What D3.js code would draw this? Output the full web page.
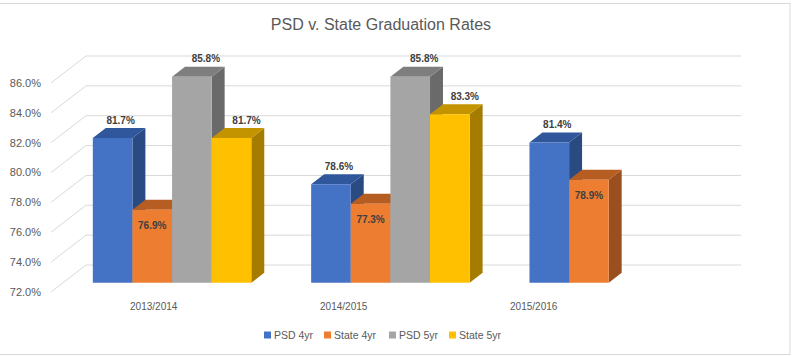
<!DOCTYPE html>
<html><head><meta charset="utf-8">
<script src="https://cdn.jsdelivr.net/npm/d3@7"></script>
<style>
html,body{margin:0;padding:0;background:#fff;}
svg{display:block;font-family:"Liberation Sans",Arial,sans-serif;}
</style></head>
<body>
<svg id="chart" width="793" height="356"></svg>
<script>
// ---- data ----
const categories = ["2013/2014", "2014/2015", "2015/2016"];
const seriesNames = ["PSD 4yr", "State 4yr", "PSD 5yr", "State 5yr"];
const psd4 = [81.7, 78.6, 81.4];
const state4 = [76.9, 77.3, 78.9];
const psd5 = [85.8, 85.8, null];
const state5 = [81.7, 83.3, null];
const yTicks = [72, 74, 76, 78, 80, 82, 84, 86];
const title = "PSD v. State Graduation Rates";

const seriesValues = [psd4, state4, psd5, state5];
const colors = [
  {front:"#4472C4", top:"#30569B", side:"#2A4A82"},
  {front:"#ED7D31", top:"#B65D22", side:"#9A4F1E"},
  {front:"#A5A5A5", top:"#7E7E7E", side:"#6A6A6A"},
  {front:"#FFC000", top:"#C49300", side:"#A67C00"}
];
const labelDx = [8, 0, 14, 15];

const svg = d3.select("#chart");

// border
svg.append("rect").attr("x", -1).attr("y", 3.5).attr("width", 791).attr("height", 351)
  .attr("fill", "none").attr("stroke", "#d9d9d9").attr("stroke-width", 1);

// title
svg.append("text").attr("x", 381).attr("y", 30).attr("text-anchor", "middle")
  .attr("font-size", 16).attr("fill", "#595959").text(title);

// 3D projection parameters
const DX = 35, DY = 27;
const y = d3.scaleLinear().domain([72, 86]).range([292, 83]);
const x0 = d3.scaleBand().domain(categories).range([51, 706]);
const pad = x0.step() * 0.137;
const x1 = d3.scaleBand().domain(seriesNames).range([pad, x0.step() - pad]);
const zFront = 0.34, zBack = 0.71;
const P = (x, v, z) => [x + z * DX, y(v) - z * DY];

const grid = svg.append("g");
yTicks.forEach(t => {
  const a = P(x0.range()[0], t, 0), b = P(x0.range()[0], t, 1), c = P(x0.range()[1], t, 1);
  grid.append("path").attr("d", d3.line()([a, b, c]))
    .attr("fill", "none").attr("stroke", "#d9d9d9").attr("stroke-width", 1);
});

// y tick labels
svg.append("g").selectAll("text").data(yTicks).join("text")
  .attr("x", 41).attr("y", d => y(d)).attr("dy", "0.35em").attr("text-anchor", "end")
  .attr("font-size", 11).attr("fill", "#595959").text(d => d.toFixed(1) + "%");

// bars, left to right
const bars = [];
categories.forEach((c, ci) => {
  seriesNames.forEach((s, si) => {
    const v = seriesValues[si][ci];
    if (v == null) return;
    bars.push({c, s, si, v, xl: x0(c) + x1(s), w: x1.bandwidth()});
  });
});
const barG = svg.append("g");
const base = 72;
bars.forEach(b => {
  const g = barG.append("g");
  const xl = b.xl, xr = b.xl + b.w;
  const side = [P(xr, base, zFront), P(xr, base, zBack), P(xr, b.v, zBack), P(xr, b.v, zFront)];
  const top = [P(xl, b.v, zFront), P(xr, b.v, zFront), P(xr, b.v, zBack), P(xl, b.v, zBack)];
  const front = [P(xl, base, zFront), P(xr, base, zFront), P(xr, b.v, zFront), P(xl, b.v, zFront)];
  const poly = pts => "M" + pts.map(p => p.join(",")).join("L") + "Z";
  g.append("path").attr("d", poly(side)).attr("fill", colors[b.si].side);
  g.append("path").attr("d", poly(top)).attr("fill", colors[b.si].top);
  g.append("path").attr("d", poly(front)).attr("fill", colors[b.si].front);
});

// data labels
const fmt = d => d3.format(".1f")(d) + "%";
svg.append("g").selectAll("text").data(bars).join("text")
  .attr("x", b => P(b.xl + b.w / 2, b.v, zFront)[0] + labelDx[b.si])
  .attr("y", b => b.si === 1 ? P(0, b.v, zFront)[1] + 16 : P(0, b.v, zBack)[1] - 8)
  .attr("dy", "0.35em").attr("text-anchor", "middle")
  .attr("font-size", 10).attr("font-weight", "bold").attr("fill", "#404040")
  .text(b => fmt(b.v));

// category labels
const xl = d3.scaleBand().domain(categories).range([58.7, 628.7]);
svg.append("g").selectAll("text").data(categories).join("text")
  .attr("x", d => xl(d) + xl.bandwidth() / 2).attr("y", 306).attr("dy", "0.35em")
  .attr("text-anchor", "middle").attr("font-size", 10).attr("fill", "#595959").text(d => d);

// legend
const legX = [264, 324, 389, 449];
const leg = svg.append("g").selectAll("g").data(seriesNames).join("g")
  .attr("transform", (d, i) => `translate(${legX[i]},335)`);
leg.append("rect").attr("x", 0).attr("y", -3.5).attr("width", 7).attr("height", 7)
  .attr("fill", (d, i) => colors[i].front);
leg.append("text").attr("x", 10).attr("y", 0).attr("dy", "0.35em")
  .attr("font-size", 10.5).attr("fill", "#595959").text(d => d);
</script>
</body></html>
